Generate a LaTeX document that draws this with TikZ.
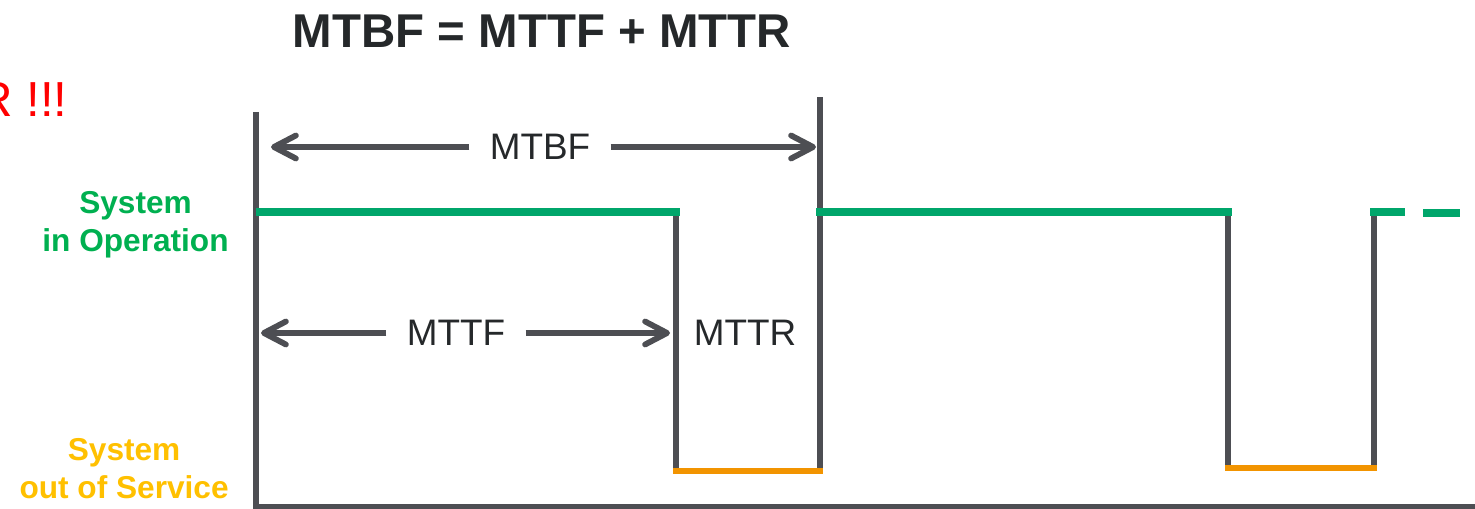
\documentclass[tikz,border=0pt]{standalone}
\usepackage{fontspec}
\setmainfont{Liberation Sans}
\usetikzlibrary{arrows.meta}
\definecolor{axisgray}{HTML}{4D4E53}
\definecolor{upgreen}{HTML}{00A66B}
\definecolor{downorange}{HTML}{F29400}
\definecolor{textgreen}{HTML}{00B050}
\definecolor{textorange}{HTML}{FFC000}
\definecolor{labeldark}{HTML}{25282A}

\begin{document}
\begin{tikzpicture}[
    x=0.02cm, y=-0.02cm,
    axis_line/.style={draw=axisgray, line width=3.3pt},
    up_state/.style={draw=upgreen, line width=4.1pt, line cap=rect},
    down_state/.style={draw=downorange, line width=3.9pt, line cap=rect},
    interval/.style={
      draw=axisgray, line width=3.3pt,
      >={Straight Barb[round, length=0.44cm, width=0.46cm]}
    },
    interval_label/.style={
      font=\fontsize{21pt}{25pt}\selectfont, text=labeldark,
      inner xsep=0.4cm, inner ysep=0pt
    },
    state_label/.style={
      font=\bfseries\fontsize{18pt}{21.6pt}\selectfont,
      align=center, anchor=east, inner sep=0pt
    }
  ]
  \useasboundingbox (0,0) rectangle (1475,509);
  \node[font=\bfseries\fontsize{27pt}{32pt}\selectfont, text=labeldark] (title) at (542,31) {MTBF = MTTF + MTTR};
  \node[font=\fontsize{28pt}{32pt}\selectfont, text=red, anchor=base east, inner sep=0pt] (alarm) at (68,117) {R !!!};
  \node[state_label, text=textgreen] (up_label) at (229,225) {System\\in Operation};
  \node[state_label, text=textorange] (down_label) at (229,469) {System\\out of Service};

  \coordinate (axis_top) at (256,112);
  \coordinate (origin) at (256,507);
  \coordinate (axis_end) at (1475,507);
  \coordinate (up1_start) at (260,212);
  \coordinate (fail1_top) at (676,212);
  \coordinate (fail1_bot) at (676,471);
  \coordinate (repair1_bot) at (820,471);
  \coordinate (repair1_top) at (820,97);
  \coordinate (up2_start) at (820,212);
  \coordinate (fail2_top) at (1228,212);
  \coordinate (fail2_bot) at (1228,468);
  \coordinate (repair2_bot) at (1374,468);
  \coordinate (repair2_top) at (1374,212);
  \coordinate (up3_end) at (1401,212);
  \coordinate (dash_start) at (1427,213);
  \coordinate (dash_end) at (1456,213);

  \draw[axis_line] (axis_top) -- (origin) -- (axis_end);
  \draw[axis_line] (fail1_top) -- (fail1_bot);
  \draw[axis_line] (repair1_bot) -- (repair1_top);
  \draw[axis_line] (fail2_top) -- (fail2_bot);
  \draw[axis_line] (repair2_bot) -- (repair2_top);
  \draw[up_state] (up1_start) -- (fail1_top);
  \draw[up_state] (up2_start) -- (fail2_top);
  \draw[up_state] (repair2_top) -- (up3_end);
  \draw[up_state] (dash_start) -- (dash_end);
  \draw[down_state] (fail1_bot) -- (repair1_bot);
  \draw[down_state] (fail2_bot) -- (repair2_bot);

  \node[interval_label] (mtbf_label) at (540,147) {MTBF};
  \node[interval_label] (mttf_label) at (456,333) {MTTF};
  \node[interval_label, inner xsep=0pt] (mttr_label) at (745,333) {MTTR};
  \coordinate (mtbf_from) at (271,147);
  \coordinate (mtbf_to) at (816,147);
  \coordinate (mttf_from) at (261,333);
  \coordinate (mttf_to) at (670,333);
  \draw[interval, ->] (mtbf_label.west) -- (mtbf_from);
  \draw[interval, ->] (mtbf_label.east) -- (mtbf_to);
  \draw[interval, ->] (mttf_label.west) -- (mttf_from);
  \draw[interval, ->] (mttf_label.east) -- (mttf_to);
\end{tikzpicture}
\end{document}
